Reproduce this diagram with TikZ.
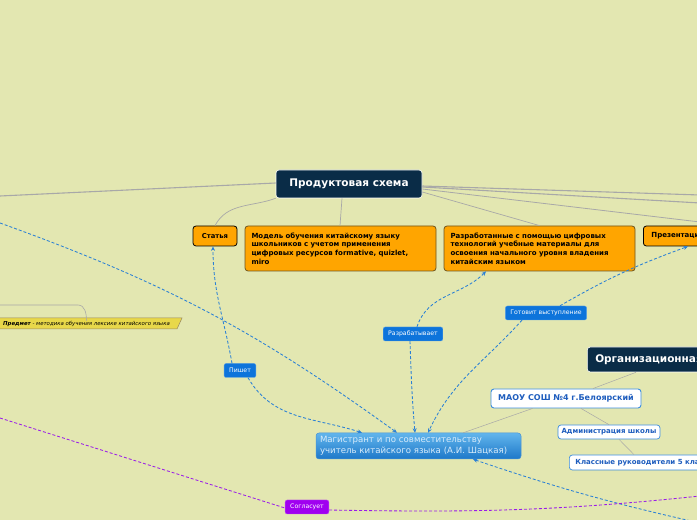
\documentclass[tikz,border=0pt]{standalone}
\usepackage{fontspec}
\setmainfont{DejaVu Sans}
\usetikzlibrary{positioning}
\usetikzlibrary{arrows.meta}

\definecolor{bgcol}{RGB}{227,231,177}
\definecolor{navy}{RGB}{10,44,71}
\definecolor{orangebox}{RGB}{255,165,0}
\definecolor{obrown}{RGB}{110,85,30}
\definecolor{lblue}{RGB}{13,116,219}
\definecolor{dblue}{RGB}{42,128,213}
\definecolor{lpurple}{RGB}{160,0,240}
\definecolor{dpurple}{RGB}{154,28,232}
\definecolor{gcol}{RGB}{168,168,168}
\definecolor{wblue}{RGB}{60,141,222}
\definecolor{tblue}{RGB}{30,93,190}
\definecolor{mtop}{RGB}{98,181,236}
\definecolor{mbot}{RGB}{29,120,201}
\definecolor{mtext}{RGB}{216,236,251}
\definecolor{ylw}{RGB}{232,216,74}

\newcommand{\fsz}[2]{\fontsize{#1}{#2}\selectfont}

\begin{document}
\begin{tikzpicture}[
    x=1pt, y=1pt,
    topic/.style={draw=white, line width=0.6pt, fill=navy, rounded corners=3pt, text=white, font=\fsz{10.5}{12}\bfseries, inner sep=0, minimum height=28pt},
    obox/.style={draw=black, line width=0.8pt, fill=orangebox, rounded corners=3pt, font=\fsz{7}{8.7}\bfseries, inner sep=0},
    wbox/.style={draw=wblue, line width=0.9pt, fill=white, rounded corners=3pt, text=tblue, inner sep=0},
    rlabel/.style={fill=lblue, draw=lblue!70!white, line width=0.4pt, rounded corners=2pt, text=white, font=\fsz{6.2}{7}, inner xsep=5pt, inner ysep=0, minimum height=14pt},
    gline/.style={draw=gcol, line width=1.1pt},
    dedge/.style={densely dashed, draw=dblue, line width=0.85pt, >={Stealth[length=4.5pt, width=4pt]}},
    pedge/.style={densely dashed, draw=dpurple, line width=0.85pt}
]

% canvas
\fill[bgcol] (0,0) rectangle (697,520);
\useasboundingbox (0,0) rectangle (697,520);

% Product scheme
\node[topic, minimum width=146pt] (prod) at (349,336) {Продуктовая схема};
\node[obox, minimum width=44pt, minimum height=20pt, font=\fsz{6.8}{8}\bfseries] (statya) at (215,284) {Статья};
\node[obox, draw=obrown, minimum width=191pt, minimum height=45pt, text width=178pt, align=left] (model) at (340.5,271.5)
    {Модель обучения китайскому языку\\школьников с учетом применения\\цифровых ресурсов formative, quizlet,\\miro};
\node[obox, draw=obrown, minimum width=191pt, minimum height=45pt, text width=178pt, align=left] (razrab) at (539.5,271.5)
    {Разработанные с помощью цифровых\\технологий учебные материалы для\\освоения начального уровня владения\\китайским языком};
\node[obox, minimum width=120pt, minimum height=20pt, text width=104pt, align=left, anchor=west] (prez) at (643,284) {Презентация};

\coordinate (lft1) at (0,324);
\coordinate (r1) at (700,325);
\coordinate (r2) at (700,317);
\coordinate (r3) at (700,298);
\draw[gline] ([yshift=1pt]prod.west) -- (lft1);
\draw[gline, line width=0.7pt] (prod.south west) to [out=200, in=62] (statya.north);
\draw[gline, line width=0.7pt] ([xshift=-7pt]prod.south) -- ([xshift=-0.5pt]model.north);
\draw[gline] ([yshift=-2pt]prod.east) -- (r1);
\draw[gline] ([yshift=-3pt]prod.east) -- (r2);
\draw[gline, line width=0.8pt] ([yshift=-5pt]prod.east) -- (r3);
\draw[gline, line width=0.7pt] ([yshift=-8pt]prod.east) -- (razrab.north);

% Subject
\fill[ylw, draw=obrown!70, line width=0.5pt] (-5,202) -- (182,202) -- (177,191) -- (-5,191) -- cycle;
\node[inner sep=0, anchor=west, font=\fsz{5.4}{6}\itshape] (predmet) at (3,196.5) {\textbf{Предмет} - методика обучения лексике китайского языка};
\coordinate (lft2) at (0,215);
\draw[gline, line width=0.6pt] (lft2) -- (78,215) to [out=0, in=90] (predmet.north);

% Organizational scheme
\node[topic, minimum height=25pt, inner xsep=8pt, anchor=west] (org) at (587,160.5) {Организационная схема};
\node[wbox, minimum width=150pt, minimum height=19pt, font=\fsz{8}{9}\bfseries] (maou) at (566,121.5) {МАОУ СОШ №4 г.Белоярский};
\node[wbox, line width=0.7pt, minimum width=102pt, minimum height=14pt, font=\fsz{7}{8}\bfseries] (admin) at (609,88) {Администрация школы};
\node[wbox, line width=0.7pt, minimum height=15pt, inner xsep=6pt, anchor=west, font=\fsz{7}{8}\bfseries] (klass) at (569,57.5) {Классные руководители 5 классов};
\draw[gline, line width=0.5pt] ([xshift=49pt]org.south west) -- ([xshift=27pt]maou.north);
\draw[gline, line width=0.5pt] ([xshift=15pt]maou.south) -- (admin.north);
\draw[gline, line width=0.5pt] ([xshift=10pt]admin.south) -- ([xshift=65pt]klass.north west);

% Teacher
\node[draw=mbot!80!white, line width=0.5pt, rounded corners=3pt, top color=mtop, bottom color=mbot, text=mtext,
    minimum width=205pt, minimum height=26pt, text width=197pt, inner sep=0, align=left, font=\fsz{8.6}{10.7}] (magistr) at (418.5,74)
    {Магистрант и по совместительству\\учитель китайского языка (А.И. Шацкая)};
\draw[gline, line width=0.5pt] (maou.south west)+(42pt,0) -- ([xshift=-58pt]magistr.north east);

% Relations
\node[rlabel] (pishet) at (240,149.5) {Пишет};
\node[rlabel] (razrabat) at (413,186) {Разрабатывает};
\node[rlabel] (gotovit) at (546,207) {Готовит выступление};
\node[rlabel, fill=lpurple, draw=lpurple!70!white] (soglas) at (307,13) {Согласует};

\coordinate (lft3) at (0,297);
\coordinate (lft4) at (0,102);
\coordinate (rb1) at (700,-3);
\coordinate (rp1) at (700,24);

\draw[dedge, ->] ([xshift=-8pt]pishet.north) to [out=100, in=-90] ([xshift=-2pt]statya.south);
\draw[dedge, ->] ([xshift=8pt]pishet.south) to [out=-60, in=162] ([xshift=-56.5pt]magistr.north);
\draw[dedge, ->] (lft3) to [bend left=8] ([xshift=-21.5pt]magistr.north);
\draw[dedge, ->] ([xshift=4pt]razrabat.north) to [out=72, in=225] ([xshift=-53.5pt]razrab.south);
\draw[dedge, ->] ([xshift=-3pt]razrabat.south) to [out=-88, in=95] ([xshift=-3.5pt]magistr.north);
\draw[dedge, ->] ([xshift=14pt]gotovit.north) to [out=30, in=200] ([xshift=45pt]prez.south west);
\draw[dedge, ->] ([xshift=-24pt]gotovit.south) to [out=228, in=65] ([xshift=9.5pt]magistr.north);
\draw[dedge, ->] (rb1) to [bend left=3] ([xshift=54.5pt]magistr.south);
\draw[pedge] (lft4) -- ([yshift=-1pt]soglas.west);
\draw[pedge] ([yshift=-3pt]soglas.east) to [out=-1, in=186] (rp1);

\end{tikzpicture}
\end{document}
